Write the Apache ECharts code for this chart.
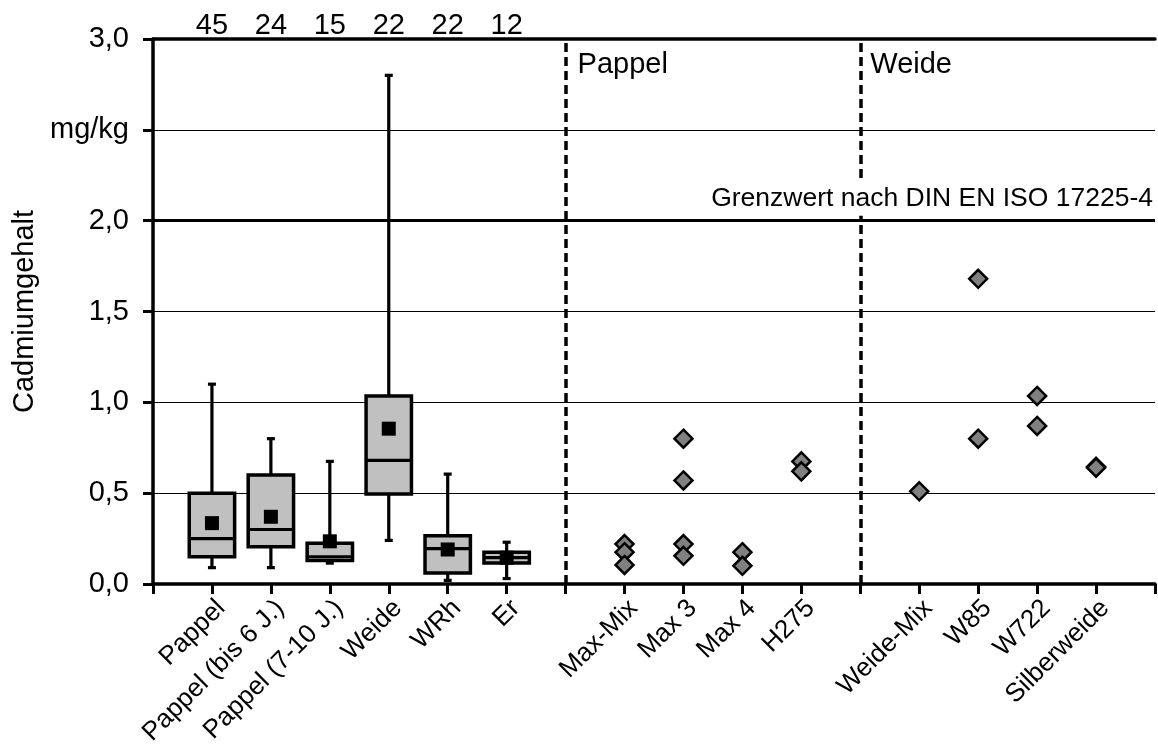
<!DOCTYPE html>
<html>
<head>
<meta charset="utf-8">
<script src="https://cdn.jsdelivr.net/npm/echarts@6/dist/echarts.min.js"></script>
<style>
html,body{margin:0;padding:0;background:#fff;}
#chart{width:1158px;height:749px;}
</style>
</head>
<body>
<div id="chart"></div>
<script>
// ---- categories (slot positions on the x axis; '' = empty slot / separator) ----
const categories = ['', 'Pappel', 'Pappel (bis 6 J.)', 'Pappel (7-10 J.)', 'Weide', 'WRh', 'Er', '',
  'Max-Mix', 'Max 3', 'Max 4', 'H275', '', 'Weide-Mix', 'W85', 'W722', 'Silberweide', ''];

// ---- box plot groups ----
const boxGroups = ['Pappel', 'Pappel (bis 6 J.)', 'Pappel (7-10 J.)', 'Weide', 'WRh', 'Er'];
const boxMin    = [0.09, 0.09, 0.115, 0.24, 0.02, 0.03];
const boxQ1     = [0.15, 0.205, 0.13, 0.495, 0.06, 0.115];
const boxMedian = [0.25, 0.30, 0.15, 0.68, 0.195, 0.145];
const boxQ3     = [0.50, 0.60, 0.225, 1.035, 0.265, 0.175];
const boxMax    = [1.10, 0.80, 0.675, 2.80, 0.605, 0.23];
const boxMean   = [0.335, 0.37, 0.235, 0.855, 0.19, 0.145];
const boxCounts = [45, 24, 15, 22, 22, 12];

// ---- clone single values ----
const cloneNames = ['Max-Mix', 'Max 3', 'Max 4', 'H275', 'Weide-Mix', 'W85', 'W722', 'Silberweide'];
const cloneValues = [
  [0.22, 0.175, 0.105],
  [0.80, 0.57, 0.22, 0.155],
  [0.175, 0.10],
  [0.675, 0.62],
  [0.51],
  [1.68, 0.80],
  [1.035, 0.87],
  [0.645, 0.64]
];

// ---- axis tick labels ----
const yTickLabels = ['0,0', '0,5', '1,0', '1,5', '2,0', 'mg/kg', '3,0'];
const yAxisName = 'Cadmiumgehalt';
const limitValue = 2.0;
const limitLabel = 'Grenzwert nach DIN EN ISO 17225-4';
const separators = [7, 12];
const groupLabels = ['Pappel', 'Weide'];

const FONT = '"Liberation Sans", Arial, sans-serif';

const boxData = boxGroups.map((g, i) => [categories.indexOf(g), boxMin[i], boxQ1[i], boxMedian[i], boxQ3[i], boxMax[i]]);
const meanData = boxGroups.map((g, i) => [categories.indexOf(g), boxMean[i]]);
const cloneData = [];
cloneNames.forEach((n, i) => cloneValues[i].forEach(v => cloneData.push([categories.indexOf(n), v])));

function renderBox(params, api) {
  const x = api.value(0);
  const pMin = api.coord([x, api.value(1)]);
  const pQ1 = api.coord([x, api.value(2)]);
  const pMed = api.coord([x, api.value(3)]);
  const pQ3 = api.coord([x, api.value(4)]);
  const pMax = api.coord([x, api.value(5)]);
  const band = api.size([1, 0])[0];
  const hw = band * 0.385;
  const cw = 4;
  const cx = pMed[0];
  const st = {stroke: '#000', lineWidth: 3.2};
  return {
    type: 'group',
    children: [
      {type: 'line', shape: {x1: cx, y1: pMax[1], x2: cx, y2: pQ3[1]}, style: st},
      {type: 'line', shape: {x1: cx, y1: pQ1[1], x2: cx, y2: pMin[1]}, style: st},
      {type: 'line', shape: {x1: cx - cw, y1: pMax[1], x2: cx + cw, y2: pMax[1]}, style: st},
      {type: 'line', shape: {x1: cx - cw, y1: pMin[1], x2: cx + cw, y2: pMin[1]}, style: st},
      {type: 'rect', shape: {x: cx - hw, y: pQ3[1], width: 2 * hw, height: pQ1[1] - pQ3[1]},
        style: {fill: '#c0c0c0', stroke: '#000', lineWidth: 3.5}},
      {type: 'line', shape: {x1: cx - hw, y1: pMed[1], x2: cx + hw, y2: pMed[1]}, style: st}
    ]
  };
}

const chart = echarts.init(document.getElementById('chart'), null, {renderer: 'canvas'});
const option = {
  animation: false,
  backgroundColor: '#fff',
  textStyle: {fontFamily: FONT, color: '#000'},
  grid: {left: 153, right: -8, top: 39, bottom: 165, containLabel: false},
  xAxis: [
    {
      type: 'category', data: categories, boundaryGap: false, position: 'bottom',
      axisLine: {show: true, lineStyle: {color: '#000', width: 3.5}},
      axisTick: {show: true, interval: 0, length: 10, lineStyle: {color: '#000', width: 3}},
      axisLabel: {interval: 0, rotate: 45, margin: 11, verticalAlign: 'top', fontSize: 26, color: '#000', fontFamily: FONT},
      splitLine: {show: false}
    },
    {
      type: 'category', data: categories, boundaryGap: false, position: 'top',
      axisLine: {show: true, onZero: false, lineStyle: {color: '#000', width: 3.5}},
      axisTick: {show: false},
      axisLabel: {interval: 0, margin: -1, fontSize: 29, color: '#000', fontFamily: FONT,
        formatter: (v, idx) => { const k = boxGroups.indexOf(v); return (k >= 0 && idx === categories.indexOf(v)) ? String(boxCounts[k]) : ''; }},
      splitLine: {show: false}
    }
  ],
  yAxis: {
    type: 'value', min: 0, max: 3, interval: 0.5,
    name: yAxisName, nameLocation: 'middle', nameGap: 110, nameRotate: 90,
    nameTextStyle: {fontSize: 29, color: '#000', fontFamily: FONT},
    axisLine: {show: true, lineStyle: {color: '#000', width: 3.5}},
    axisTick: {show: true, length: 10, lineStyle: {color: '#000', width: 3}},
    axisLabel: {margin: 24, fontSize: 29, color: '#000', fontFamily: FONT,
      formatter: v => yTickLabels[Math.round(v / 0.5)]},
    splitLine: {show: true, lineStyle: {color: '#000', width: 1}}
  },
  series: [
    {
      type: 'custom', name: 'box', renderItem: renderBox, data: boxData,
      encode: {x: 0, y: [1, 2, 3, 4, 5]}, z: 3,
      markLine: {
        silent: true, symbol: 'none', animation: false, z: 2,
        label: {show: false},
        data: [
          {yAxis: limitValue, lineStyle: {color: '#000', width: 3, type: 'solid', opacity: 1}},
          ...separators.map(s => ({xAxis: s, lineStyle: {color: '#000', width: 3.5, type: [9, 5], opacity: 1}}))
        ]
      }
    },
    {
      type: 'scatter', name: 'mean', data: meanData, symbol: 'rect', symbolSize: 14,
      itemStyle: {color: '#000', opacity: 1}, z: 5
    },
    {
      type: 'scatter', name: 'clones', data: cloneData, symbol: 'diamond', symbolSize: 18,
      itemStyle: {color: '#808080', borderColor: '#000', borderWidth: 2.5, opacity: 1}, z: 5
    }
  ]
};
chart.setOption(option);

// annotations placed via the chart's own scales
const sepA = chart.convertToPixel({gridIndex: 0}, [separators[0], 2.87]);
const sepB = chart.convertToPixel({gridIndex: 0}, [separators[1], 2.87]);
const lim = chart.convertToPixel({gridIndex: 0}, [16, limitValue]);
chart.setOption({
  graphic: [
    {type: 'text', left: sepA[0] + 12, top: sepA[1] - 12, z: 100,
      style: {text: groupLabels[0], font: '29px ' + FONT, fill: '#000'}},
    {type: 'text', left: sepB[0] + 10, top: sepB[1] - 12, z: 100,
      style: {text: groupLabels[1], font: '29px ' + FONT, fill: '#000'}},
    {type: 'text', right: 3, top: lim[1] - 38, z: 100,
      style: {text: limitLabel, font: '26.5px ' + FONT, fill: '#000', backgroundColor: '#fff', padding: [3, 2, 3, 2]}}
  ]
});
</script>
</body>
</html>
